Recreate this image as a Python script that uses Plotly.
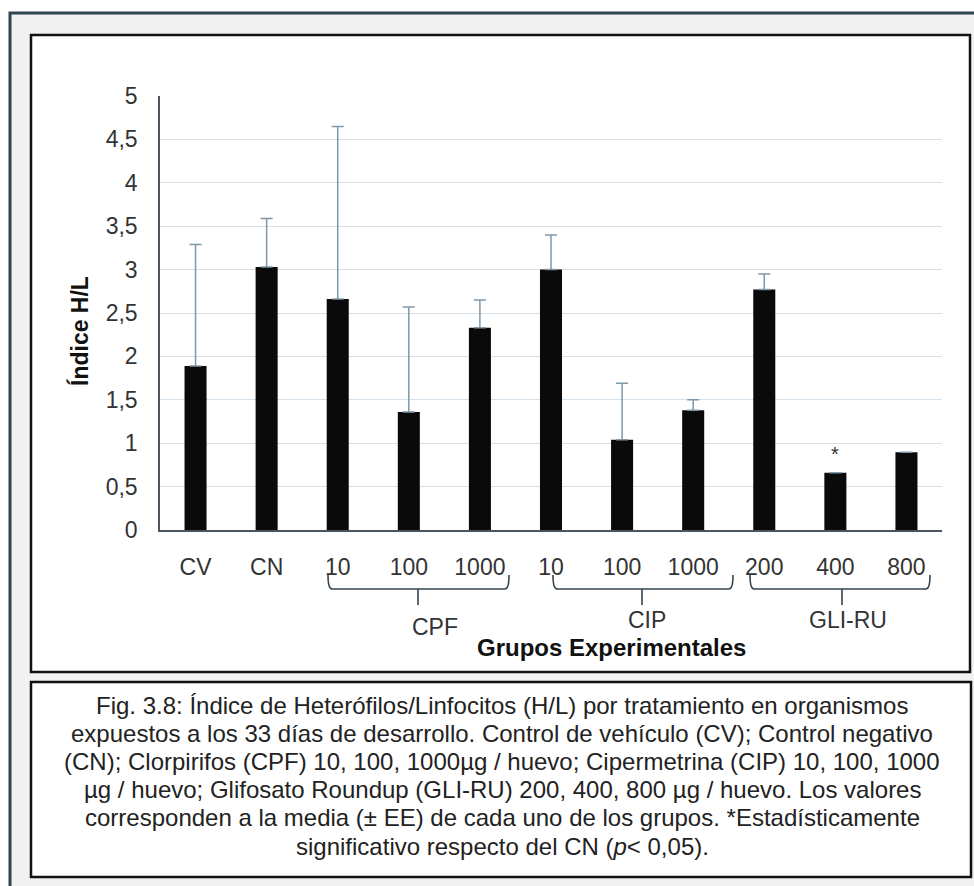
import plotly.graph_objects as go

# ---------------- data ----------------
categories = ["CV", "CN", "10", "100", "1000", "10", "100", "1000", "200", "400", "800"]
means = [1.89, 3.03, 2.66, 1.36, 2.33, 3.00, 1.04, 1.38, 2.77, 0.66, 0.895]
errors = [1.40, 0.56, 1.99, 1.21, 0.32, 0.40, 0.65, 0.12, 0.18, None, None]
groups = ["CPF", "CIP", "GLI-RU"]
significant = [False, False, False, False, False, False, False, False, False, True, False]
y_ticks = [0, 0.5, 1, 1.5, 2, 2.5, 3, 3.5, 4, 4.5, 5]
caption_lines = [
    "Fig. 3.8: Índice de Heterófilos/Linfocitos (H/L) por tratamiento en organismos",
    "expuestos a los 33 días de desarrollo. Control de vehículo (CV); Control negativo",
    "(CN); Clorpirifos (CPF) 10, 100, 1000µg / huevo; Cipermetrina (CIP) 10, 100, 1000",
    "µg / huevo; Glifosato Roundup (GLI-RU) 200, 400, 800 µg / huevo. Los valores",
    "corresponden a la media (± EE) de cada uno de los grupos. *Estadísticamente",
    "significativo respecto del CN (<i>p</i>&lt; 0,05).",
]

# ---------------- layout geometry (pixels) ----------------
W, H = 974, 886
ML, MR, MT, MB = 160, 32, 96, 356
PW, PH = W - ML - MR, H - MT - MB


def px(xp):
    return (xp - ML) / PW


def py(yp):
    return (H - MB - yp) / PH


def dx(xp):
    # pixel -> category data coordinate
    return (xp - ML) / PW * len(categories) - 0.5


FONT = "Liberation Sans, Arial, sans-serif"

x_idx = list(range(len(categories)))

fig = go.Figure()
fig.add_trace(go.Bar(
    x=x_idx, y=means, width=0.31,
    marker=dict(color="#0a0a0a", line=dict(width=0)),
    error_y=dict(type="data", array=errors, symmetric=False,
                 arrayminus=[0 if e is not None else None for e in errors],
                 color="#7f98a8", thickness=1.5, width=6),
    showlegend=False,
))

shapes = [
    # outer gray frame
    dict(type="rect", xref="paper", yref="paper", x0=px(10), x1=px(990), y0=py(13), y1=py(900),
         fillcolor="#f1f1f1", line=dict(color="#2f4550", width=3), layer="below"),
    # chart frame
    dict(type="rect", xref="paper", yref="paper", x0=px(31), x1=px(970), y0=py(35), y1=py(672),
         fillcolor="white", line=dict(color="#111111", width=2.5), layer="below"),
    # caption frame
    dict(type="rect", xref="paper", yref="paper", x0=px(31), x1=px(971), y0=py(682), y1=py(877),
         fillcolor="white", line=dict(color="#111111", width=2.5), layer="below"),
]

# brackets under the grouped categories: (left px, right px, stem px, label px, label y px)
bracket_geo = [(328, 509, 418, 435, 627), (553, 733, 642, 647, 620), (750, 930, 842, 848, 620)]
yt, yl, ys = py(575), py(589), py(605)
d = 4 / PW * len(categories)
annotations = []
for name, (xl, xr, xm, xlab, ylab) in zip(groups, bracket_geo):
    a, b, m = dx(xl), dx(xr), dx(xm)
    path = (f"M {a},{yt} Q {a},{yl} {a + d},{yl} L {b - d},{yl} Q {b},{yl} {b},{yt} "
            f"M {m},{yl} L {m},{ys}")
    shapes.append(dict(type="path", xref="x", yref="paper", path=path,
                       line=dict(color="#34444f", width=1.6)))
    annotations.append(dict(x=dx(xlab), y=py(ylab), xref="x", yref="paper", text=name,
                            showarrow=False, xanchor="center", yanchor="middle",
                            font=dict(family=FONT, size=23, color="#333333")))

# significance star
for i, s in enumerate(significant):
    if s:
        annotations.append(dict(x=i, y=means[i] + 0.22, xref="x", yref="y", text="*",
                                showarrow=False, yanchor="middle",
                                font=dict(family=FONT, size=20, color="#333333")))

annotations += [
    dict(x=px(611), y=py(647), xref="paper", yref="paper", text="<b>Grupos Experimentales</b>",
         showarrow=False, xanchor="center", yanchor="middle",
         font=dict(family=FONT, size=24, color="#111111")),
    dict(x=px(79), y=py(331), xref="paper", yref="paper", text="<b>Índice H/L</b>",
         showarrow=False, textangle=-90, xanchor="center", yanchor="middle",
         font=dict(family=FONT, size=23, color="#111111")),
]

for k, line in enumerate(caption_lines):
    annotations.append(dict(x=px(502), y=py(705 + 28.2 * k), xref="paper", yref="paper",
                            text=line, showarrow=False, xanchor="center", yanchor="middle",
                            font=dict(family=FONT, size=24, color="#222222")))

fig.update_layout(
    width=W, height=H, autosize=False,
    margin=dict(l=ML, r=MR, t=MT, b=MB, pad=0),
    paper_bgcolor="white", plot_bgcolor="rgba(0,0,0,0)",
    separators=",.",
    shapes=shapes, annotations=annotations,
    xaxis=dict(range=[-0.5, len(categories) - 0.5], tickmode="array", tickvals=x_idx,
               ticktext=categories, ticks="", showgrid=False, zeroline=False,
               showline=True, linecolor="#4a5560", linewidth=1.8,
               tickfont=dict(family=FONT, size=23, color="#333333"),
               ticklabelstandoff=15),
    yaxis=dict(range=[0, 5], tickmode="array", tickvals=y_ticks, ticks="",
               showgrid=True, gridcolor="#d5e1ea", gridwidth=1, zeroline=False,
               showline=True, linecolor="#4a5560", linewidth=1.5,
               tickfont=dict(family=FONT, size=23, color="#333333"),
               ticklabelstandoff=16),
    bargap=0.69,
)

fig.write_html("out.html")
